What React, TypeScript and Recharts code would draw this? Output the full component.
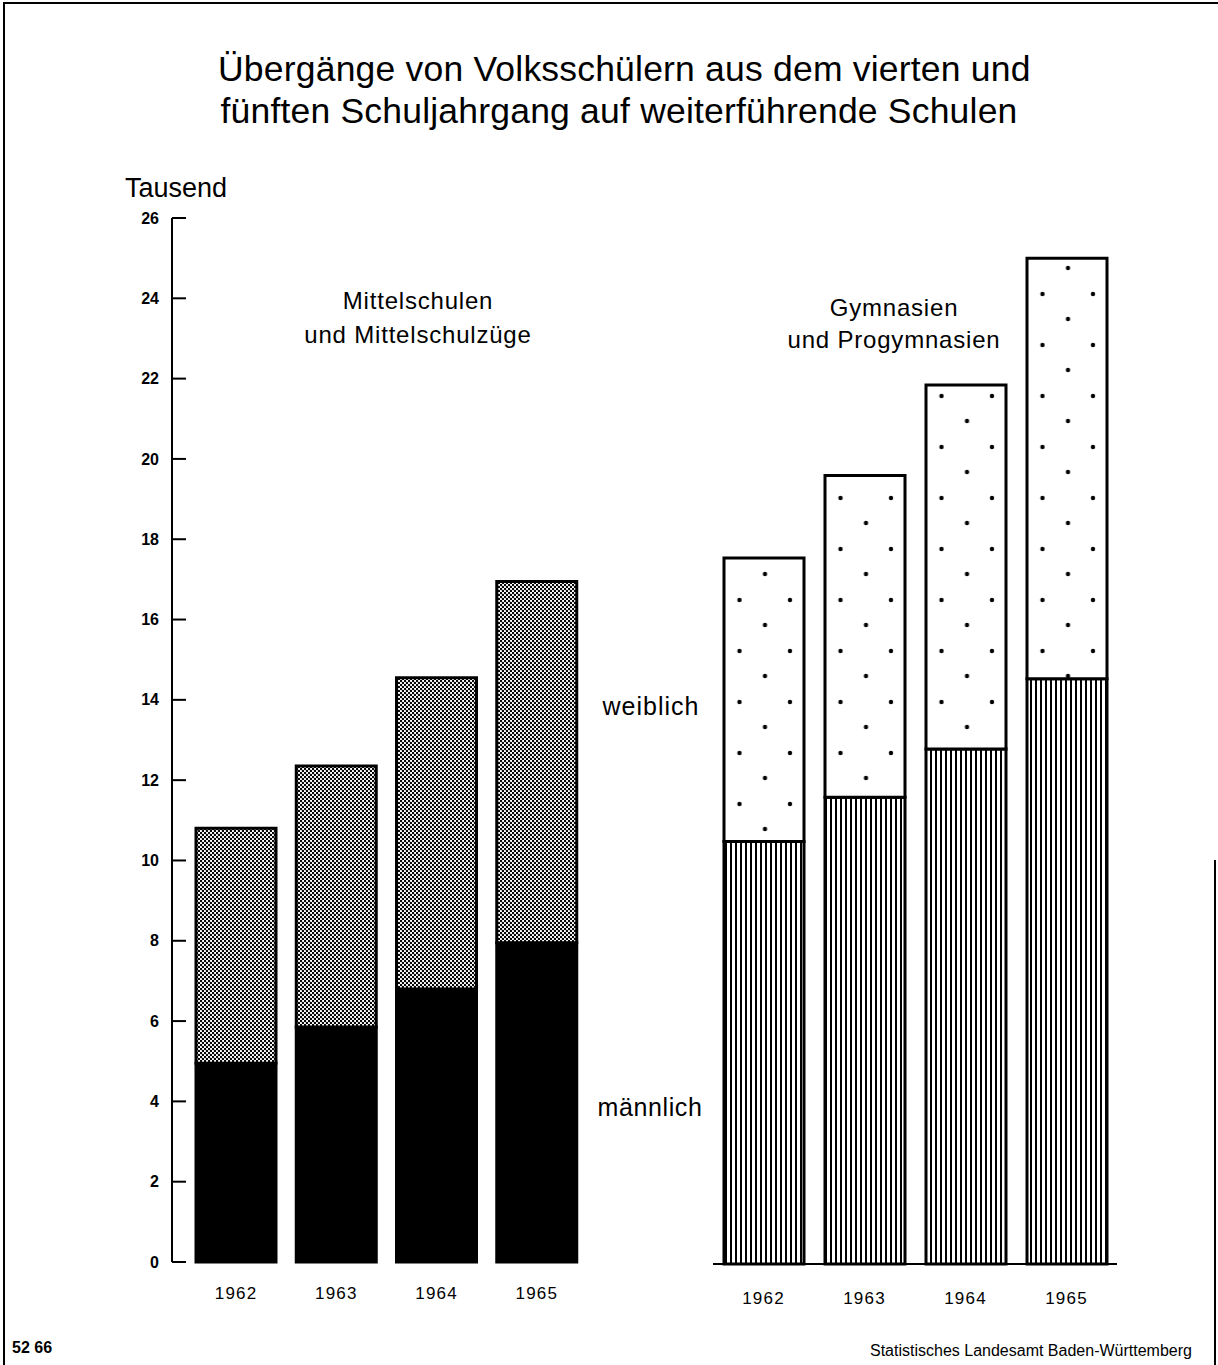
import React from 'react';
import { BarChart, Bar, XAxis, YAxis } from 'recharts';

// Tausend Schüler
const years = ['1962', '1963', '1964', '1965'];
const mittelMaennlich = [4.95, 5.85, 6.8, 7.95];
const mittelWeiblich = [5.85, 6.5, 7.75, 9.0];
const gymMaennlich = [10.5, 11.6, 12.8, 14.55];
const gymWeiblich = [7.05, 8.0, 9.05, 10.45];
const yTicks = [0, 2, 4, 6, 8, 10, 12, 14, 16, 18, 20, 22, 24, 26];

const mittelData = years.map((year, i) => ({
  year,
  maennlich: mittelMaennlich[i],
  weiblich: mittelWeiblich[i],
}));

const gymData = years.map((year, i) => ({
  year,
  maennlich: gymMaennlich[i],
  weiblich: gymWeiblich[i],
}));

const font = '"Liberation Sans", Arial, Helvetica, sans-serif';

const YTick = (props: any) => {
  const { x, y, payload } = props;
  return (
    <g>
      <line x1={x} x2={x + 14} y1={y} y2={y} stroke="#000" strokeWidth={2} />
      <text
        x={x - 13}
        y={y}
        dy="0.35em"
        textAnchor="end"
        fontSize={16}
        fontWeight="bold"
        fontFamily={font}
        fill="#000"
      >
        {payload.value}
      </text>
    </g>
  );
};

const makeYearTick = (offset: number) => (props: any) => {
  const { x, y, payload } = props;
  return (
    <text
      x={x}
      y={y + offset}
      dy="0.35em"
      textAnchor="middle"
      fontSize={17}
      letterSpacing={1.2}
      fontFamily={font}
      fill="#000"
    >
      {payload.value}
    </text>
  );
};

const label = (left: number, top: number, size: number, text: string, extra: React.CSSProperties = {}) => (
  <div
    style={{
      position: 'absolute',
      left,
      top,
      fontSize: size,
      lineHeight: 1,
      whiteSpace: 'nowrap',
      color: '#000',
      ...extra,
    }}
  >
    {text}
  </div>
);

const centered = (cx: number, cy: number, size: number, text: string, extra: React.CSSProperties = {}) => (
  <div
    style={{
      position: 'absolute',
      left: cx - 400,
      top: cy - size / 2,
      width: 800,
      textAlign: 'center',
      fontSize: size,
      lineHeight: 1,
      whiteSpace: 'nowrap',
      color: '#000',
      ...extra,
    }}
  >
    {text}
  </div>
);

export default function App() {
  return (
    <div
      style={{
        position: 'absolute',
        left: 0,
        top: 0,
        width: 1218,
        height: 1365,
        background: '#fff',
        fontFamily: font,
        overflow: 'hidden',
      }}
    >
      <svg width={0} height={0} style={{ position: 'absolute' }}>
        <defs>
          <pattern id="checker" width={4} height={4} patternUnits="userSpaceOnUse">
            <rect width={4} height={4} fill="#fff" />
            <circle cx={1} cy={1} r={1.2} fill="#000" />
            <circle cx={3} cy={3} r={1.2} fill="#000" />
          </pattern>
          <pattern id="dots" width={50.5} height={51} patternUnits="userSpaceOnUse">
            <rect width={50.5} height={51} fill="#fff" />
            <circle cx={13.5} cy={13} r={2.2} fill="#000" />
            <circle cx={38.5} cy={39} r={2.2} fill="#000" />
          </pattern>
          <pattern id="vlines" width={5} height={10} patternUnits="userSpaceOnUse">
            <rect width={5} height={10} fill="#fff" />
            <rect x={0} width={2} height={10} fill="#000" />
          </pattern>
        </defs>
      </svg>

      {/* Rahmen */}
      <div style={{ position: 'absolute', left: 3, top: 2, width: 1300, height: 1400, borderLeft: '2px solid #000', borderTop: '2px solid #000' }} />
      <div style={{ position: 'absolute', left: 1214, top: 860, width: 0, height: 520, borderLeft: '2px solid #000' }} />

      {/* Titel */}
      {centered(618, 70, 35.5, 'Übergänge von Volksschülern aus dem vierten und', { letterSpacing: 0.2 })}
      {centered(619, 112, 35.5, 'fünften Schuljahrgang auf weiterführende Schulen', { letterSpacing: 0.2 })}

      {label(125, 175, 27, 'Tausend')}

      {centered(418, 301, 24, 'Mittelschulen', { letterSpacing: 0.8 })}
      {centered(418, 335, 24, 'und Mittelschulzüge', { letterSpacing: 0.8 })}
      {centered(894, 308, 24, 'Gymnasien', { letterSpacing: 0.8 })}
      {centered(894, 340, 24, 'und Progymnasien', { letterSpacing: 0.8 })}

      {centered(651, 706, 25, 'weiblich', { letterSpacing: 1 })}
      {centered(650, 1107, 25, 'männlich', { letterSpacing: 0.6 })}

      <div style={{ position: 'absolute', left: 0, top: 0 }}>
        <BarChart
          width={600}
          height={1320}
          data={mittelData}
          margin={{ top: 218, right: 13, bottom: 8, left: 100 }}
          barSize={80}
        >
          <YAxis
            domain={[0, 26]}
            ticks={yTicks}
            width={72}
            tickSize={0}
            tickMargin={0}
            tickLine={false}
            axisLine={{ stroke: '#000', strokeWidth: 2 }}
            tick={YTick}
            interval={0}
          />
          <XAxis
            dataKey="year"
            height={50}
            tickSize={0}
            tickMargin={0}
            tickLine={false}
            axisLine={false}
            padding={{ left: 14, right: 0 }}
            tick={makeYearTick(31)}
          />
          <Bar dataKey="maennlich" stackId="a" fill="#000" stroke="#000" strokeWidth={3} isAnimationActive={false} />
          <Bar dataKey="weiblich" stackId="a" fill="url(#checker)" stroke="#000" strokeWidth={3} isAnimationActive={false} />
        </BarChart>
      </div>

      <div style={{ position: 'absolute', left: 600, top: 0 }}>
        <BarChart
          width={560}
          height={1320}
          data={gymData}
          margin={{ top: 218, right: 43, bottom: 6, left: 113 }}
          barSize={80}
        >
          <YAxis hide domain={[0, 26]} />
          <XAxis
            dataKey="year"
            height={50}
            tickSize={0}
            tickMargin={0}
            tickLine={false}
            axisLine={{ stroke: '#000', strokeWidth: 2 }}
            tick={makeYearTick(34)}
          />
          <Bar dataKey="maennlich" stackId="b" fill="url(#vlines)" stroke="#000" strokeWidth={3} isAnimationActive={false} />
          <Bar dataKey="weiblich" stackId="b" fill="url(#dots)" stroke="#000" strokeWidth={3} isAnimationActive={false} />
        </BarChart>
      </div>

      {label(12, 1340, 16, '52 66', { fontWeight: 'bold' })}
      {label(870, 1343, 16, 'Statistisches Landesamt Baden-Württemberg')}
    </div>
  );
}
